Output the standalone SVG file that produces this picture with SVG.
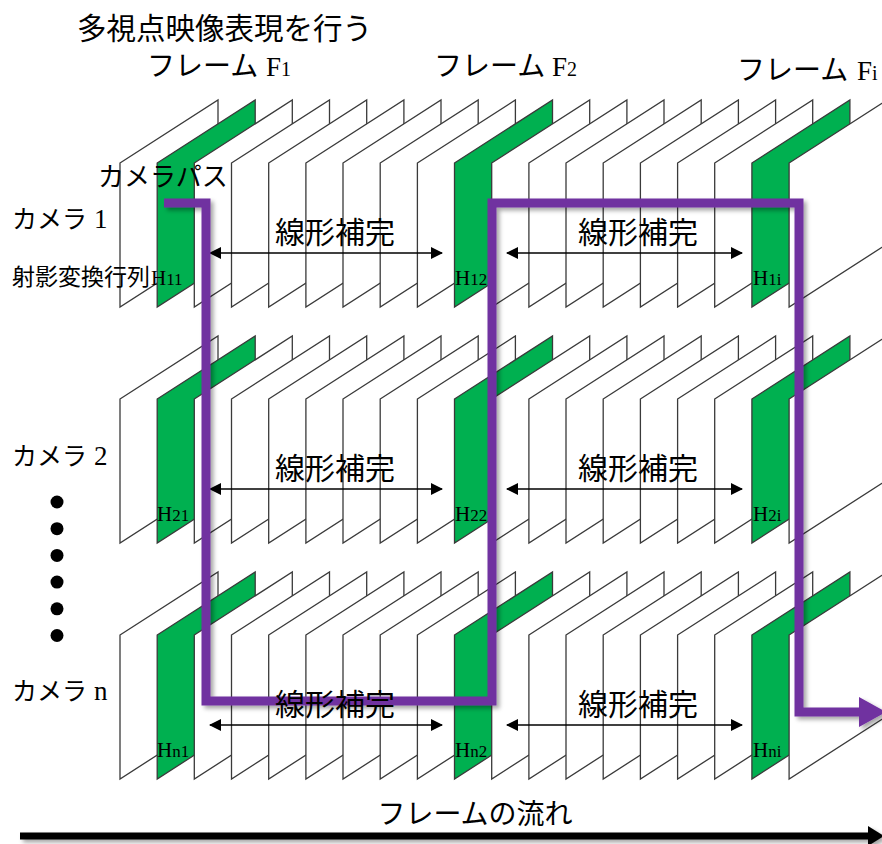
<svg xmlns="http://www.w3.org/2000/svg" xmlns:xlink="http://www.w3.org/1999/xlink" width="882" height="844" viewBox="0 0 882 844">
<style>
.jp{font-family:"Noto Sans CJK JP","Noto Sans",sans-serif;fill:#000}
.se{font-family:"Liberation Serif","DejaVu Serif",serif;fill:#000}
.w{fill:#fff;stroke:#3a3a3a;stroke-width:1.3}
.g{fill:#00B050;stroke:#3a3a3a;stroke-width:1.3}
.ar{stroke:#000;stroke-width:1.6;fill:none;marker-start:url(#ah);marker-end:url(#ah)}
.path{stroke:#7030A0;stroke-width:9;fill:none;stroke-linejoin:miter}
.hl{font-family:"Liberation Serif","DejaVu Serif",serif;fill:#000;font-size:21px}
.hs{font-size:17px}
.fl{font-family:"Liberation Serif","DejaVu Serif",serif;font-size:27px}
.fs{font-family:"Liberation Serif","DejaVu Serif",serif;font-size:20px}
</style>
<defs>
<polygon id="fr" points="0,0 98,-63 98,81 0,144"/>
<marker id="ah" viewBox="0 0 12 12" refX="11" refY="6" markerWidth="12" markerHeight="12" markerUnits="userSpaceOnUse" orient="auto-start-reverse">
<path d="M0,0 L12,6 L0,12 Z" fill="#000"/>
</marker>
<filter id="sh" x="-5%" y="-5%" width="115%" height="115%">
<feDropShadow dx="3" dy="3" stdDeviation="2" flood-color="#000" flood-opacity="0.35"/>
</filter>
</defs>
<rect width="882" height="844" fill="#fff"/>

<g id="title">
<text class="jp" x="77" y="39" font-size="29.5">多視点映像表現を行う</text>
</g>
<g id="frame-labels">
<text class="jp" x="147" y="76" font-size="28">フレーム<tspan class="fl" x="266">F</tspan><tspan class="fs">1</tspan></text>
<text class="jp" x="434" y="76" font-size="28">フレーム<tspan class="fl" x="552">F</tspan><tspan class="fs">2</tspan></text>
<text class="jp" x="737" y="80" font-size="28">フレーム<tspan class="fl" x="857">F</tspan><tspan class="fs">i</tspan></text>
</g>

<g id="row1">
<use href="#fr" x="120" y="163" class="w"/>
<g id="frame-H11"><use href="#fr" x="157.2" y="163" class="g"/></g>
<use href="#fr" x="194.3" y="163" class="w"/>
<use href="#fr" x="231.5" y="163" class="w"/>
<use href="#fr" x="268.7" y="163" class="w"/>
<use href="#fr" x="305.9" y="163" class="w"/>
<use href="#fr" x="343" y="163" class="w"/>
<use href="#fr" x="380.2" y="163" class="w"/>
<use href="#fr" x="417.4" y="163" class="w"/>
<g id="frame-H12"><use href="#fr" x="454.5" y="163" class="g"/>
<text class="hl" x="455" y="285">H<tspan class="hs">12</tspan></text></g>
<use href="#fr" x="491.7" y="163" class="w"/>
<use href="#fr" x="528.9" y="163" class="w"/>
<use href="#fr" x="566" y="163" class="w"/>
<use href="#fr" x="603.2" y="163" class="w"/>
<use href="#fr" x="640.4" y="163" class="w"/>
<use href="#fr" x="677.6" y="163" class="w"/>
<use href="#fr" x="714.7" y="163" class="w"/>
<g id="frame-H1i"><use href="#fr" x="751.9" y="163" class="g"/>
<text class="hl" x="753" y="285">H<tspan class="hs">1i</tspan></text></g>
<use href="#fr" x="789.1" y="163" class="w"/>
</g>

<g id="row2">
<use href="#fr" x="120" y="399" class="w"/>
<g id="frame-H21"><use href="#fr" x="157.2" y="399" class="g"/>
<text class="hl" x="157" y="521">H<tspan class="hs">21</tspan></text></g>
<use href="#fr" x="194.3" y="399" class="w"/>
<use href="#fr" x="231.5" y="399" class="w"/>
<use href="#fr" x="268.7" y="399" class="w"/>
<use href="#fr" x="305.9" y="399" class="w"/>
<use href="#fr" x="343" y="399" class="w"/>
<use href="#fr" x="380.2" y="399" class="w"/>
<use href="#fr" x="417.4" y="399" class="w"/>
<g id="frame-H22"><use href="#fr" x="454.5" y="399" class="g"/>
<text class="hl" x="455" y="521">H<tspan class="hs">22</tspan></text></g>
<use href="#fr" x="491.7" y="399" class="w"/>
<use href="#fr" x="528.9" y="399" class="w"/>
<use href="#fr" x="566" y="399" class="w"/>
<use href="#fr" x="603.2" y="399" class="w"/>
<use href="#fr" x="640.4" y="399" class="w"/>
<use href="#fr" x="677.6" y="399" class="w"/>
<use href="#fr" x="714.7" y="399" class="w"/>
<g id="frame-H2i"><use href="#fr" x="751.9" y="399" class="g"/>
<text class="hl" x="753" y="521">H<tspan class="hs">2i</tspan></text></g>
<use href="#fr" x="789.1" y="399" class="w"/>
</g>

<g id="row3">
<use href="#fr" x="120" y="635" class="w"/>
<g id="frame-Hn1"><use href="#fr" x="157.2" y="635" class="g"/>
<text class="hl" x="157" y="757">H<tspan class="hs">n1</tspan></text></g>
<use href="#fr" x="194.3" y="635" class="w"/>
<use href="#fr" x="231.5" y="635" class="w"/>
<use href="#fr" x="268.7" y="635" class="w"/>
<use href="#fr" x="305.9" y="635" class="w"/>
<use href="#fr" x="343" y="635" class="w"/>
<use href="#fr" x="380.2" y="635" class="w"/>
<use href="#fr" x="417.4" y="635" class="w"/>
<g id="frame-Hn2"><use href="#fr" x="454.5" y="635" class="g"/>
<text class="hl" x="455" y="757">H<tspan class="hs">n2</tspan></text></g>
<use href="#fr" x="491.7" y="635" class="w"/>
<use href="#fr" x="528.9" y="635" class="w"/>
<use href="#fr" x="566" y="635" class="w"/>
<use href="#fr" x="603.2" y="635" class="w"/>
<use href="#fr" x="640.4" y="635" class="w"/>
<use href="#fr" x="677.6" y="635" class="w"/>
<use href="#fr" x="714.7" y="635" class="w"/>
<g id="frame-Hni"><use href="#fr" x="751.9" y="635" class="g"/>
<text class="hl" x="753" y="757">H<tspan class="hs">ni</tspan></text></g>
<use href="#fr" x="789.1" y="635" class="w"/>
</g>

<g id="camera-labels">
<text class="jp" x="12" y="228" font-size="25">カメラ<tspan class="fl" x="94">1</tspan></text>
<text class="jp" x="12" y="285" font-size="23">射影変換行列<tspan class="hl" x="151">H</tspan><tspan class="hl hs">11</tspan></text>
<text class="jp" x="12" y="465" font-size="25">カメラ<tspan class="fl" x="94">2</tspan></text>
<text class="jp" x="12" y="700" font-size="25">カメラ<tspan class="fl" x="94">n</tspan></text>
<g id="dots" fill="#000">
<circle cx="57" cy="502" r="6.5"/>
<circle cx="57" cy="528.7" r="6.5"/>
<circle cx="57" cy="555.4" r="6.5"/>
<circle cx="57" cy="582.1" r="6.5"/>
<circle cx="57" cy="608.8" r="6.5"/>
<circle cx="57" cy="635.5" r="6.5"/>
</g>
</g>

<g id="connectors">
<line class="ar" x1="210" y1="253" x2="442" y2="253"/>
<line class="ar" x1="507" y1="253" x2="742" y2="253"/>
<line class="ar" x1="210" y1="489" x2="442" y2="489"/>
<line class="ar" x1="507" y1="489" x2="742" y2="489"/>
<line class="ar" x1="210" y1="725" x2="442" y2="725"/>
<line class="ar" x1="507" y1="725" x2="742" y2="725"/>
<g id="camera-path" filter="url(#sh)">
<polyline class="path" points="164,203 206,203 206,701 492,701 492,203 799,203 799,712 862,712"/>
<polygon points="859,697 886,712 859,727" fill="#7030A0"/>
</g>
<g id="flow-arrow" filter="url(#sh)">
<line x1="20" y1="836" x2="870" y2="836" stroke="#000" stroke-width="7"/>
<polygon points="868,826 884,836 868,846" fill="#000"/>
</g>
</g>

<g id="interp-labels">
<text class="jp" x="335" y="243" font-size="30" text-anchor="middle">線形補完</text>
<text class="jp" x="638" y="243" font-size="30" text-anchor="middle">線形補完</text>
<text class="jp" x="335" y="479" font-size="30" text-anchor="middle">線形補完</text>
<text class="jp" x="638" y="479" font-size="30" text-anchor="middle">線形補完</text>
<text class="jp" x="335" y="715" font-size="30" text-anchor="middle">線形補完</text>
<text class="jp" x="638" y="715" font-size="30" text-anchor="middle">線形補完</text>
</g>
<g id="path-label">
<text class="jp" x="98" y="186" font-size="26">カメラパス</text>
</g>
<g id="flow-label">
<text class="jp" x="475" y="824" font-size="28" text-anchor="middle">フレームの流れ</text>
</g>
</svg>
